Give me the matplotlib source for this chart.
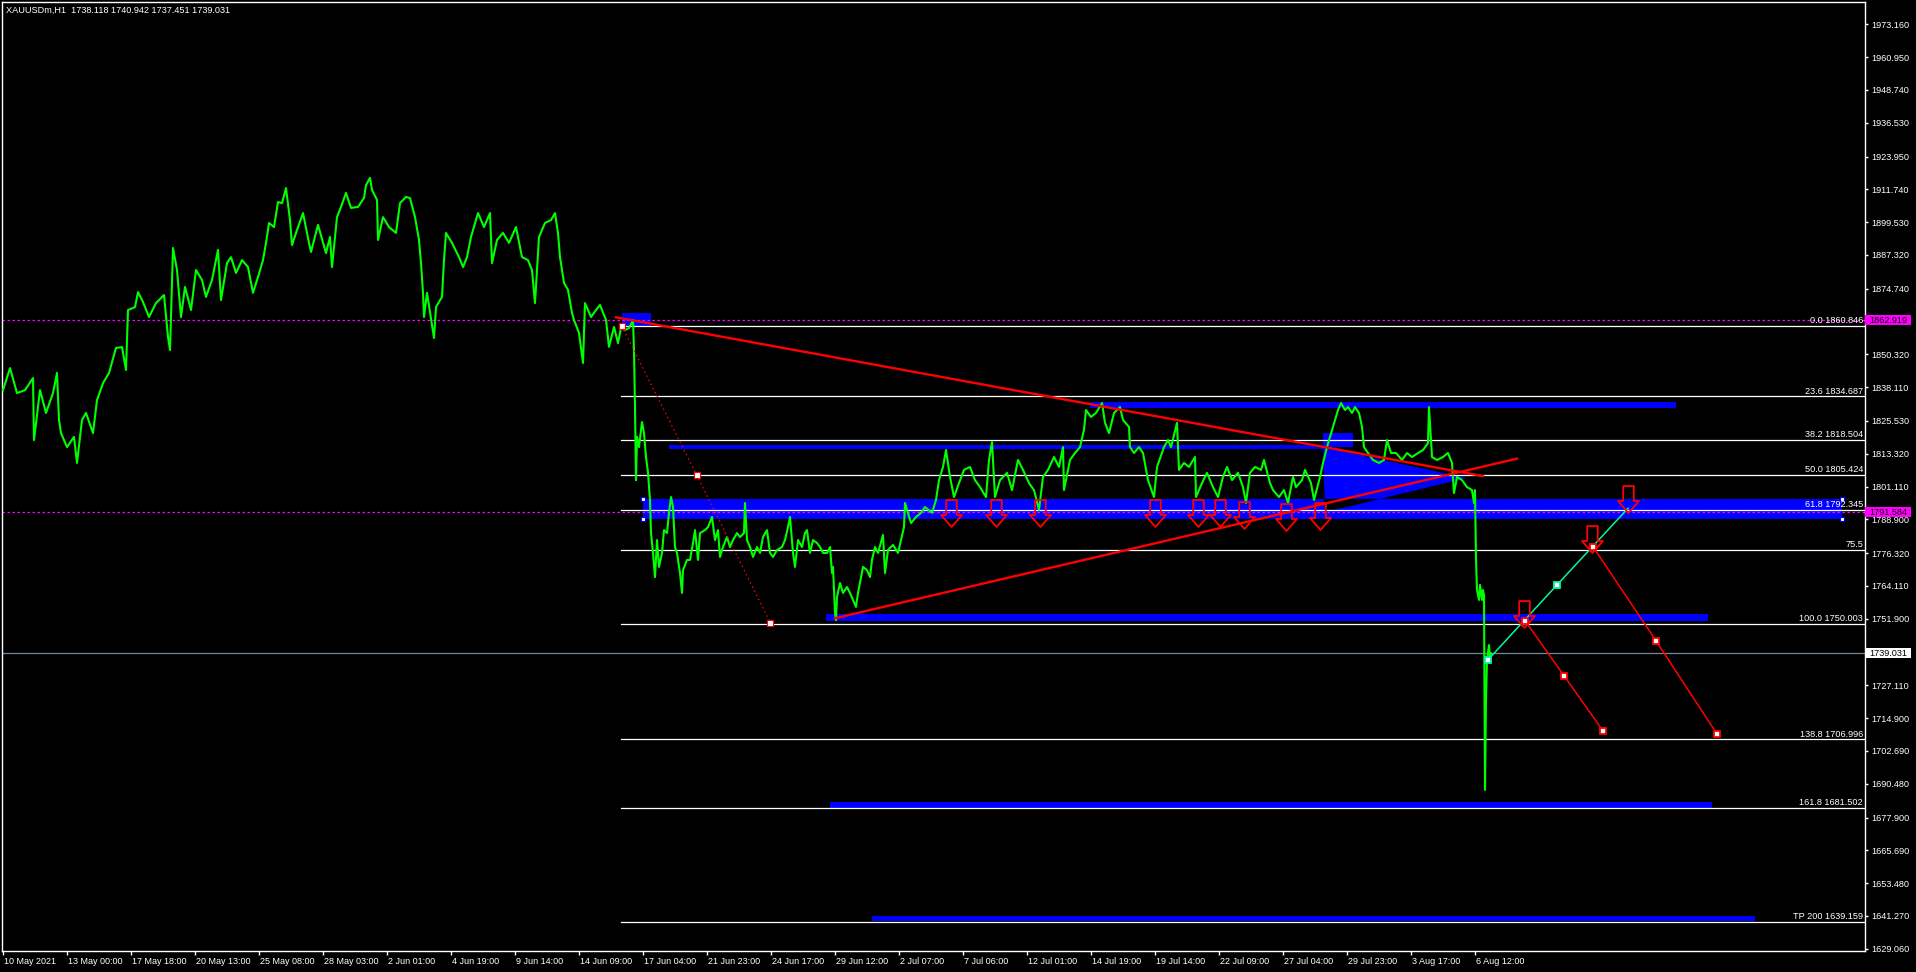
import matplotlib.pyplot as plt
import matplotlib.transforms as mtransforms
from matplotlib.path import Path
from matplotlib.patches import Rectangle, Polygon

plt.rcParams['font.family'] = ['Liberation Sans', 'DejaVu Sans']

# ---------------- data (x = bar position on chart, y = price) ----------------
price_path = [
    (3, 1837.0), (10, 1845.2), (17, 1835.9), (25, 1837.0), (33, 1841.5), (34, 1818.4), (40, 1837.0),
    (46, 1828.5), (53, 1835.9), (57, 1843.4), (59, 1825.9), (61, 1821.0), (67, 1815.8), (74, 1819.6),
    (77, 1809.9), (82, 1825.9), (86, 1828.5), (93, 1821.0), (97, 1833.3), (103, 1839.6), (109, 1843.4),
    (116, 1852.7), (122, 1853.0), (126, 1844.5), (128, 1866.8), (135, 1867.9), (138, 1873.5),
    (143, 1869.8), (149, 1864.2), (156, 1869.4), (164, 1872.4), (168, 1856.8), (170, 1851.9),
    (173, 1889.9), (177, 1881.7), (181, 1864.2), (185, 1875.4), (191, 1866.8), (196, 1881.7),
    (202, 1878.0), (206, 1871.7), (212, 1878.0), (218, 1889.2), (221, 1870.5), (227, 1884.3),
    (231, 1886.5), (236, 1880.6), (242, 1885.4), (248, 1882.8), (253, 1873.2), (258, 1879.1),
    (263, 1885.4), (266, 1891.8), (269, 1899.2), (274, 1897.7), (278, 1907.0), (282, 1906.6),
    (286, 1912.2), (290, 1900.3), (292, 1891.0), (297, 1896.6), (303, 1902.9), (309, 1891.8),
    (311, 1888.4), (318, 1898.5), (326, 1888.0), (330, 1894.0), (332, 1882.8), (337, 1901.4),
    (341, 1905.2), (346, 1910.4), (351, 1904.8), (358, 1905.2), (364, 1908.5), (366, 1913.3),
    (370, 1916.0), (372, 1911.5), (377, 1907.8), (378, 1892.9), (383, 1901.4), (389, 1897.7),
    (396, 1895.5), (400, 1906.6), (406, 1908.9), (410, 1908.5), (415, 1901.4), (419, 1892.9),
    (421, 1884.3), (423, 1873.2), (424, 1864.2), (427, 1873.2), (434, 1856.4), (436, 1867.9),
    (442, 1871.7), (444, 1885.4), (446, 1895.5), (452, 1891.8), (459, 1886.5), (463, 1882.8),
    (467, 1886.5), (471, 1894.0), (478, 1902.9), (484, 1897.7), (490, 1902.9), (492, 1884.3),
    (497, 1892.9), (503, 1895.5), (509, 1891.8), (516, 1897.7), (522, 1886.5), (528, 1885.4),
    (532, 1881.7), (535, 1869.4), (539, 1894.0), (545, 1899.2), (551, 1900.3), (555, 1902.9),
    (558, 1895.5), (560, 1886.5), (564, 1876.9), (568, 1874.3), (572, 1865.7), (574, 1863.1),
    (579, 1858.3), (583, 1847.1), (585, 1869.4), (591, 1864.2), (596, 1866.8), (600, 1868.7),
    (606, 1863.1), (609, 1853.1), (614, 1860.5), (618, 1854.5), (621, 1860.1), (625, 1859.4),
    (629, 1860.1), (633, 1863.1), (634, 1851.9), (635, 1830.7), (636, 1803.5), (637, 1819.6),
    (639, 1815.8), (642, 1825.1), (644, 1821.0), (646, 1812.1), (648, 1806.2), (650, 1796.1),
    (651, 1783.8), (653, 1776.4), (655, 1767.4), (657, 1781.2), (659, 1771.2), (662, 1776.4),
    (664, 1784.9), (667, 1783.8), (669, 1791.3), (671, 1797.2), (673, 1793.5), (675, 1778.6),
    (677, 1776.4), (680, 1768.9), (682, 1761.5), (683, 1770.0), (687, 1773.8), (690, 1773.8),
    (693, 1780.1), (695, 1784.9), (698, 1773.8), (700, 1783.8), (705, 1784.9), (708, 1786.0),
    (712, 1789.8), (715, 1781.2), (718, 1784.9), (720, 1774.9), (723, 1778.6), (727, 1782.3),
    (730, 1778.6), (733, 1781.2), (737, 1783.8), (740, 1782.3), (744, 1783.8), (745, 1795.0),
    (747, 1781.2), (750, 1778.6), (753, 1774.9), (757, 1778.6), (760, 1776.4), (763, 1782.3),
    (767, 1784.9), (770, 1776.4), (773, 1774.9), (777, 1777.5), (782, 1778.6), (785, 1781.2),
    (788, 1786.0), (790, 1789.8), (793, 1776.4), (795, 1771.2), (798, 1781.2), (802, 1778.6),
    (805, 1783.8), (807, 1784.9), (810, 1776.4), (813, 1781.2), (817, 1780.1), (820, 1778.6),
    (823, 1776.4), (827, 1776.4), (830, 1778.6), (832, 1768.9), (833, 1771.2), (835, 1754.0),
    (836, 1751.4), (837, 1760.0), (840, 1765.2), (843, 1761.5), (847, 1763.7), (850, 1761.5),
    (853, 1758.9), (856, 1756.3), (858, 1761.5), (861, 1767.4), (863, 1771.2), (867, 1770.0),
    (870, 1767.4), (872, 1773.8), (875, 1778.6), (878, 1776.4), (883, 1783.1), (885, 1768.9),
    (888, 1777.5), (893, 1779.4), (898, 1776.4), (904, 1786.0), (905, 1795.0), (911, 1787.5),
    (916, 1789.8), (921, 1791.3), (925, 1793.5), (932, 1791.3), (936, 1796.1), (939, 1803.5),
    (943, 1808.4), (946, 1814.7), (950, 1804.7), (954, 1797.2), (959, 1802.4), (964, 1807.3),
    (970, 1808.4), (975, 1803.5), (980, 1800.9), (986, 1797.2), (989, 1811.0), (992, 1817.7),
    (995, 1797.2), (1000, 1803.5), (1007, 1806.2), (1012, 1799.8), (1018, 1811.0), (1023, 1807.3),
    (1029, 1802.4), (1034, 1799.8), (1039, 1792.4), (1043, 1804.7), (1048, 1807.3), (1054, 1812.1),
    (1059, 1808.4), (1063, 1815.8), (1064, 1799.8), (1070, 1811.0), (1075, 1813.6), (1080, 1815.8),
    (1084, 1822.2), (1086, 1829.6), (1091, 1827.0), (1096, 1828.5), (1102, 1832.2), (1105, 1824.8),
    (1109, 1821.0), (1114, 1828.5), (1120, 1830.7), (1123, 1825.9), (1129, 1823.3), (1130, 1815.8),
    (1134, 1813.6), (1139, 1815.8), (1143, 1813.6), (1148, 1803.5), (1154, 1797.2), (1157, 1808.4),
    (1164, 1815.8), (1168, 1818.4), (1171, 1815.8), (1177, 1824.8), (1179, 1807.3), (1184, 1809.9),
    (1189, 1808.4), (1195, 1812.1), (1196, 1797.2), (1202, 1802.4), (1207, 1806.2), (1213, 1800.9),
    (1218, 1797.2), (1223, 1804.7), (1227, 1808.4), (1232, 1803.5), (1238, 1806.2), (1243, 1800.9),
    (1246, 1795.0), (1250, 1806.2), (1255, 1808.4), (1261, 1807.3), (1264, 1811.0), (1270, 1802.4),
    (1273, 1799.8), (1279, 1797.2), (1284, 1799.8), (1288, 1795.0), (1293, 1804.7), (1296, 1800.9),
    (1302, 1803.5), (1305, 1807.3), (1311, 1802.4), (1314, 1796.1), (1320, 1804.7), (1323, 1809.9),
    (1327, 1815.8), (1330, 1819.6), (1334, 1824.8), (1338, 1829.6), (1341, 1832.2), (1345, 1829.6),
    (1348, 1830.7), (1352, 1828.5), (1355, 1830.7), (1359, 1828.5), (1362, 1823.3), (1364, 1815.8),
    (1368, 1813.6), (1373, 1811.0), (1379, 1809.9), (1384, 1811.0), (1387, 1818.4), (1391, 1813.6),
    (1396, 1813.6), (1402, 1811.0), (1407, 1813.6), (1412, 1812.1), (1418, 1813.6), (1423, 1814.7),
    (1428, 1817.3), (1429, 1830.7), (1432, 1812.1), (1437, 1811.0), (1443, 1812.1), (1448, 1813.6),
    (1452, 1809.9), (1454, 1798.7), (1457, 1804.7), (1462, 1803.5), (1467, 1800.9), (1472, 1799.8),
    (1474, 1795.0), (1475, 1799.8), (1476, 1773.8), (1477, 1762.6), (1479, 1758.9), (1480, 1764.5),
    (1482, 1758.9), (1483, 1762.6), (1484, 1760.7), (1485, 1688.2), (1486, 1721.7), (1487, 1736.6),
    (1489, 1742.1), (1490, 1736.6), (1491, 1739.031),
]

y_ticks = [1973.160, 1960.950, 1948.740, 1936.530, 1923.950, 1911.740, 1899.530, 1887.320,
           1874.740, 1850.320, 1838.110, 1825.530, 1813.320, 1801.110, 1788.900, 1776.320,
           1764.110, 1751.900, 1727.110, 1714.900, 1702.690, 1690.480, 1677.900, 1665.690,
           1653.480, 1641.270, 1629.060]
x_ticks = [3, 67, 131, 195, 259, 323, 387, 451, 515, 579, 643, 707, 771, 835, 899, 963,
           1027, 1091, 1155, 1219, 1283, 1347, 1411, 1475]
x_labels = ['10 May 2021', '13 May 00:00', '17 May 18:00', '20 May 13:00', '25 May 08:00',
            '28 May 03:00', '2 Jun 01:00', '4 Jun 19:00', '9 Jun 14:00', '14 Jun 09:00',
            '17 Jun 04:00', '21 Jun 23:00', '24 Jun 17:00', '29 Jun 12:00', '2 Jul 07:00',
            '7 Jul 06:00', '12 Jul 01:00', '14 Jul 19:00', '19 Jul 14:00', '22 Jul 09:00',
            '27 Jul 04:00', '29 Jul 23:00', '3 Aug 17:00', '6 Aug 12:00']

# fibonacci levels
fib_start = 621
fib_levels = [1860.846, 1834.687, 1818.504, 1805.424, 1792.345, 1777.5, 1750.003,
              1706.996, 1681.502, 1639.159]
fib_labels = ['0.0 1860.846', '23.6 1834.687', '38.2 1818.504', '50.0 1805.424',
              '61.8 1792.345', '75.5', '100.0 1750.003', '138.8 1706.996',
              '161.8 1681.502', 'TP 200 1639.159']

# blue zones: x0, x1, low, high
zones = [
    (622, 651, 1860.85, 1865.7),
    (1090, 1676, 1830.5, 1832.7),
    (669, 1325, 1815.1, 1816.6),
    (643, 1842, 1789.0, 1796.5),
    (826, 1708, 1751.1, 1753.7),
    (830, 1712, 1681.1, 1683.7),
    (872, 1755, 1639.4, 1641.3),
    (1323, 1353, 1815.8, 1821.0),
]
zone_corners_x = [643, 643, 1842, 1842]
zone_corners_y = [1796.5, 1789.0, 1796.5, 1789.0]
triangle = [(1323, 1815.8), (1325, 1791.6), (1467, 1804.3)]
triangle_overlap = [(1324, 1796.5), (1325, 1791.6), (1380, 1796.5)]

# trend lines
trend_down_x, trend_down_y = [616, 1483], [1864.1, 1805.0]
trend_up_x, trend_up_y = [835, 1517], [1752.1, 1811.5]
fib_base_x, fib_base_y = [621.7, 696.7, 770.3], [1860.9, 1805.4, 1750.5]
proj_up_x, proj_up_y = [1488, 1557, 1628], [1736.6, 1764.5, 1793.0]
proj_a_x, proj_a_y = [1525, 1564, 1603], [1751.2, 1730.7, 1710.2]
proj_b_x, proj_b_y = [1593, 1656, 1717], [1778.7, 1743.7, 1709.0]

# sell arrows
arrow_x = [951, 996, 1040, 1155, 1198, 1220, 1244, 1286, 1320, 1524, 1592, 1628]
arrow_y = [1791.1, 1791.1, 1791.1, 1791.1, 1791.1, 1791.1, 1790.5, 1789.8, 1790.2,
           1753.7, 1781.6, 1796.5]

ask_line = 1862.919
stop_line = 1791.584
bid_line = 1739.031
header = 'XAUUSDm,H1  1738.118 1740.942 1737.451 1739.031'

# ---------------- figure ----------------
W, H = 1916, 972
fig = plt.figure(figsize=(W / 100, H / 100), dpi=100, facecolor='black')
ax = fig.add_axes([2 / W, 21 / H, 1863 / W, 949 / H])
ax.set_facecolor('black')
ax.set_xlim(2, 1865)
ax.set_ylim(1628.24, 1981.46)
for s in ax.spines.values():
    s.set_color('white')
    s.set_linewidth(1)

# zones
for x0, x1, lo, hi in zones:
    ax.add_patch(Rectangle((x0, lo), x1 - x0, hi - lo, color='#0000FF', lw=0, zorder=1))
ax.add_patch(Polygon(triangle, closed=True, color='#0000FF', lw=0, zorder=1))
ax.add_patch(Polygon(triangle_overlap, closed=True, color='black', lw=0, zorder=1.1))

# fibo levels
for lvl, lab in zip(fib_levels, fib_labels):
    ax.plot([fib_start, 1865], [lvl, lvl], color='white', lw=0.9, zorder=2)
    ax.text(1863, lvl + 0.3, lab, color='white', fontsize=6.6, ha='right', va='bottom', zorder=7)

# horizontal price lines
ax.axhline(ask_line, color='#FF00FF', lw=0.9, dashes=(2, 2), zorder=2.2)
ax.axhline(stop_line, color='#FF00FF', lw=0.9, dashes=(2, 2), zorder=2.2)
ax.axhline(bid_line, color='#778899', lw=0.9, zorder=2.2)

# price
px = [p[0] for p in price_path]
py = [p[1] for p in price_path]
ax.plot(px, py, color='#00FF00', lw=1.5, zorder=3)

# fibo baseline (dotted)
ax.plot(fib_base_x, fib_base_y, color='red', lw=0.9, dashes=(1.2, 2.5), zorder=3.5)
ax.plot(fib_base_x, fib_base_y, ls='none', marker='s', ms=3.8, mfc='white', mec='red',
        mew=0.8, zorder=5)

# trend lines
ax.plot(trend_down_x, trend_down_y, color='red', lw=1.7, zorder=4)
ax.plot(trend_up_x, trend_up_y, color='red', lw=1.7, zorder=4)

# projections
ax.plot(proj_up_x, proj_up_y, color='#00FA9A', lw=1.1, zorder=4.5)
ax.plot(proj_up_x[:2], proj_up_y[:2], ls='none', marker='s', ms=4, mfc='white', mec='#00FA9A',
        mew=1.3, zorder=5)
for xs, ys in [(proj_a_x, proj_a_y), (proj_b_x, proj_b_y)]:
    ax.plot(xs, ys, color='red', lw=1.1, zorder=4.5)
    ax.plot(xs, ys, ls='none', marker='s', ms=4, mfc='white', mec='red', mew=1.3, zorder=5)

ax.plot(zone_corners_x, zone_corners_y, ls='none', marker='s', ms=3.5, mfc='white',
        mec='#0000FF', mew=0.8, zorder=5)

# sell arrows (hollow block arrow)
arrow_path = Path([(-5.3, 13.5), (5.3, 13.5), (5.3, -1.5), (10.5, -1.5), (0, -13.5),
                   (-10.5, -1.5), (-5.3, -1.5), (-5.3, 13.5)], closed=True)
ax.plot(arrow_x, arrow_y, ls='none', marker=arrow_path, ms=19.4, mfc='none', mec='red',
        mew=1.3, zorder=6)

# axes ticks
ax.yaxis.tick_right()
ax.set_yticks(y_ticks)
ax.set_yticklabels(['%.3f' % v for v in y_ticks])
ax.tick_params(axis='y', colors='white', length=2.5, width=1, pad=1.8, labelsize=6.6)
ax.set_xticks(x_ticks)
ax.set_xticklabels(x_labels)
ax.tick_params(axis='x', colors='white', length=3, width=1, pad=1.4, labelsize=6.5)
shift = mtransforms.ScaledTranslation(1.5 / 100, 0, fig.dpi_scale_trans)
for lbl in ax.get_xticklabels():
    lbl.set_ha('left')
    lbl.set_transform(lbl.get_transform() + shift)

# price boxes on the right scale
box_tr = mtransforms.blended_transform_factory(ax.transAxes, ax.transData)
box_h = 10 * (1981.46 - 1628.24) / 949
for val, face, fg in [(ask_line, '#FF00FF', 'black'), (stop_line, '#FF00FF', 'black'),
                      (bid_line, 'white', 'black')]:
    ax.add_patch(Rectangle((1864.7 / 1863 - 2 / 1863, val - box_h / 2), 46 / 1863, box_h,
                           transform=box_tr, color=face, lw=0, clip_on=False, zorder=8))
    ax.text(1869.5 / 1863 - 2 / 1863, val, '%.3f' % val, transform=box_tr, color=fg,
            fontsize=6.6, va='center', ha='left', clip_on=False, zorder=9)

fig.text(6 / W, 1 - 10.7 / H, header, color='white', fontsize=6.6, va='center', ha='left')

fig.savefig('out.png', dpi=100, facecolor='black')
